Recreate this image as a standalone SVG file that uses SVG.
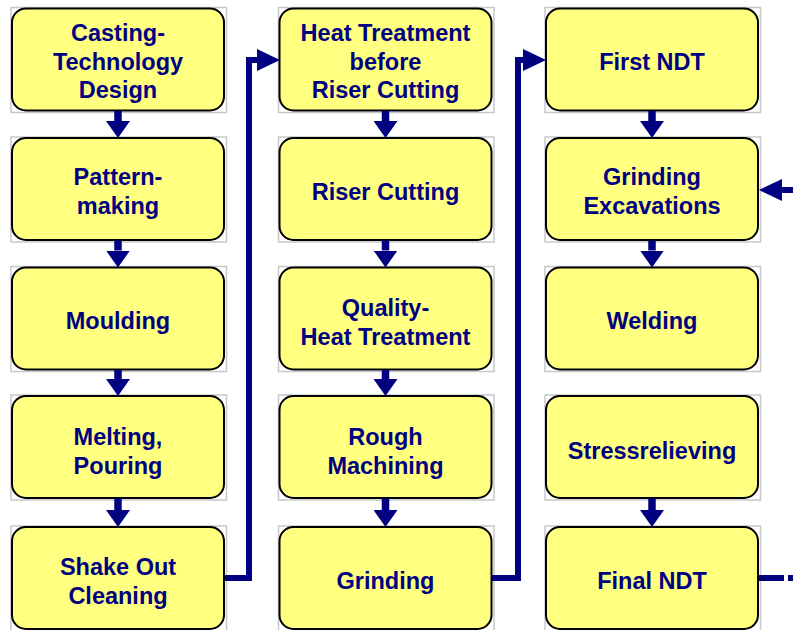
<svg xmlns="http://www.w3.org/2000/svg" width="793" height="630" viewBox="0 0 793 630">
<style>
.frame{fill:none;stroke:#c8c8c8;stroke-width:1.5}
.box{fill:#ffff80;stroke:#000;stroke-width:2}
.lbl{font-family:"Liberation Sans",Arial,sans-serif;font-weight:bold;font-size:23.5px;fill:#000080;text-anchor:middle}
.con{fill:none;stroke:#000080;stroke-width:6;stroke-linejoin:miter}
.down{fill:none;stroke:#000080;stroke-width:7.5}
</style>
<defs>
<marker id="hd" markerUnits="userSpaceOnUse" orient="auto" refX="0" refY="12" markerWidth="17" markerHeight="24" viewBox="0 0 17 24">
<path d="M0,0 L17,12 L0,24 z" fill="#000080"/>
</marker>
<marker id="hh" markerUnits="userSpaceOnUse" orient="auto" refX="0" refY="11" markerWidth="23" markerHeight="22" viewBox="0 0 23 22">
<path d="M0,0 L23,11 L0,22 z" fill="#000080"/>
</marker>
</defs>

<g id="n1"><rect class="frame" x="11" y="7.5" width="215.5" height="105"/><rect class="box" x="12" y="8.5" width="212" height="102" rx="14"/>
<text class="lbl" x="118" y="40.5">Casting-</text><text class="lbl" x="118" y="69.5">Technology</text><text class="lbl" x="118" y="97.5">Design</text></g>
<g id="n2"><rect class="frame" x="11" y="137" width="215.5" height="105"/><rect class="box" x="12" y="138" width="212" height="102" rx="14"/>
<text class="lbl" x="118" y="184.5">Pattern-</text><text class="lbl" x="118" y="213.5">making</text></g>
<g id="n3"><rect class="frame" x="11" y="266.5" width="215.5" height="105"/><rect class="box" x="12" y="267.5" width="212" height="102" rx="14"/>
<text class="lbl" x="118" y="328.5">Moulding</text></g>
<g id="n4"><rect class="frame" x="11" y="395" width="215.5" height="105"/><rect class="box" x="12" y="396" width="212" height="102" rx="14"/>
<text class="lbl" x="118" y="444.5">Melting,</text><text class="lbl" x="118" y="473.5">Pouring</text></g>
<g id="n5"><rect class="frame" x="11" y="526" width="215.5" height="105"/><rect class="box" x="12" y="527" width="212" height="102" rx="14"/>
<text class="lbl" x="118" y="574.5">Shake Out</text><text class="lbl" x="118" y="603.5">Cleaning</text></g>

<g id="n6"><rect class="frame" x="278.5" y="7.5" width="215.5" height="105"/><rect class="box" x="279.5" y="8.5" width="212" height="102" rx="14"/>
<text class="lbl" x="385.5" y="40.5">Heat Treatment</text><text class="lbl" x="385.5" y="69.5">before</text><text class="lbl" x="385.5" y="97.5">Riser Cutting</text></g>
<g id="n7"><rect class="frame" x="278.5" y="137" width="215.5" height="105"/><rect class="box" x="279.5" y="138" width="212" height="102" rx="14"/>
<text class="lbl" x="385.5" y="199.5">Riser Cutting</text></g>
<g id="n8"><rect class="frame" x="278.5" y="266.5" width="215.5" height="105"/><rect class="box" x="279.5" y="267.5" width="212" height="102" rx="14"/>
<text class="lbl" x="385.5" y="315.5">Quality-</text><text class="lbl" x="385.5" y="344.5">Heat Treatment</text></g>
<g id="n9"><rect class="frame" x="278.5" y="395" width="215.5" height="105"/><rect class="box" x="279.5" y="396" width="212" height="102" rx="14"/>
<text class="lbl" x="385.5" y="444.5">Rough</text><text class="lbl" x="385.5" y="473.5">Machining</text></g>
<g id="n10"><rect class="frame" x="278.5" y="526" width="215.5" height="105"/><rect class="box" x="279.5" y="527" width="212" height="102" rx="14"/>
<text class="lbl" x="385.5" y="588.5">Grinding</text></g>

<g id="n11"><rect class="frame" x="545" y="7.5" width="215.5" height="105"/><rect class="box" x="546" y="8.5" width="212" height="102" rx="14"/>
<text class="lbl" x="652" y="69.5">First NDT</text></g>
<g id="n12"><rect class="frame" x="545" y="137" width="215.5" height="105"/><rect class="box" x="546" y="138" width="212" height="102" rx="14"/>
<text class="lbl" x="652" y="184.5">Grinding</text><text class="lbl" x="652" y="213.5">Excavations</text></g>
<g id="n13"><rect class="frame" x="545" y="266.5" width="215.5" height="105"/><rect class="box" x="546" y="267.5" width="212" height="102" rx="14"/>
<text class="lbl" x="652" y="328.5">Welding</text></g>
<g id="n14"><rect class="frame" x="545" y="395" width="215.5" height="105"/><rect class="box" x="546" y="396" width="212" height="102" rx="14"/>
<text class="lbl" x="652" y="459">Stressrelieving</text></g>
<g id="n15"><rect class="frame" x="545" y="526" width="215.5" height="105"/><rect class="box" x="546" y="527" width="212" height="102" rx="14"/>
<text class="lbl" x="652" y="588.5">Final NDT</text></g>

<g id="connectors">
<path class="down" d="M118,111 V121" marker-end="url(#hd)"/>
<path class="down" d="M118,240.5 V250.5" marker-end="url(#hd)"/>
<path class="down" d="M118,370 V379" marker-end="url(#hd)"/>
<path class="down" d="M118,498.5 V510" marker-end="url(#hd)"/>
<path class="down" d="M385.5,111 V121" marker-end="url(#hd)"/>
<path class="down" d="M385.5,240.5 V250.5" marker-end="url(#hd)"/>
<path class="down" d="M385.5,370 V379" marker-end="url(#hd)"/>
<path class="down" d="M385.5,498.5 V510" marker-end="url(#hd)"/>
<path class="down" d="M652,111 V121" marker-end="url(#hd)"/>
<path class="down" d="M652,240.5 V250.5" marker-end="url(#hd)"/>
<path class="down" d="M652,498.5 V510" marker-end="url(#hd)"/>
<path class="con" d="M225,578 H249 V60 H257" marker-end="url(#hh)"/>
<path class="con" d="M492,578 H518 V60 H523" marker-end="url(#hh)"/>
<path class="con" d="M793,190 H782" marker-end="url(#hh)"/>
<path class="con" d="M759,578 H793" stroke-dasharray="25 4 6 4"/>
</g>
</svg>
